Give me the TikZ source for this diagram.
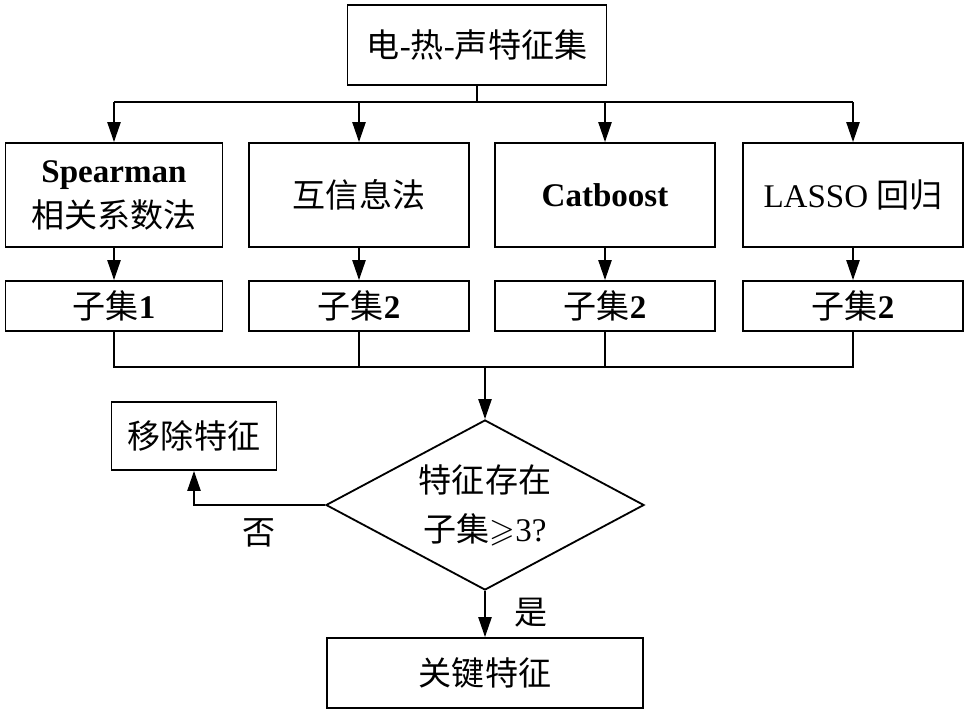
\documentclass[tikz,border=0pt]{standalone}
\usepackage{amssymb}
\usepackage{fontspec}
\setmainfont{Liberation Serif}
\newfontfamily\cjk{Noto Sans CJK SC}
\usetikzlibrary{arrows.meta,shapes.geometric}

\begin{document}
\begin{tikzpicture}[x=0.025cm,y=-0.025cm,line width=1.3pt,
    every node/.style={font=\fontsize{23.5}{32}\selectfont,align=center,inner sep=0pt},
    box/.style={draw,rectangle,minimum width=5.5cm,minimum height=2.6cm},
    subbox/.style={draw,rectangle,minimum width=5.5cm,minimum height=1.25cm},
    >={Triangle[length=5mm,width=3.3mm]}]
      \useasboundingbox (0,0) rectangle (964,711);

      \path
      (477,45) node[draw,minimum width=6.475cm,minimum height=2cm](feat) {{\cjk 电}-{\cjk 热}-{\cjk 声特征集}}
      (114,195) node[box,minimum width=5.425cm](sp) {\textbf{Spearman}\\{\cjk 相关系数法}}
      (359,195) node[box](mi) {\cjk 互信息法}
      (605,195) node[box](cb) {\textbf{Catboost}}
      (853,195) node[box](la) {LASSO {\cjk 回归}}
      ;

      \path
      (114,306) node[subbox,minimum width=5.425cm](s1) {{\cjk 子集}\textbf{1}}
      (359,306) node[subbox](s2) {{\cjk 子集}\textbf{2}}
      (605,306) node[subbox](s3) {{\cjk 子集}\textbf{2}}
      (853,306) node[subbox](s4) {{\cjk 子集}\textbf{2}}
      ;

      \path
      (485,505) node[draw,diamond,shape aspect=1.87,minimum width=7.95cm,minimum height=4.25cm,
        font=\fontsize{23.5}{35}\selectfont](dec) {{\cjk 特征存在}\\{\cjk 子集}$\geqslant$3?}
      (194,436) node[draw,minimum width=4.125cm,minimum height=1.7cm](rm) {\cjk 移除特征}
      (485,673) node[draw,minimum width=7.9cm,minimum height=1.75cm](key) {\cjk 关键特征}
      (259,533) node(no) {\cjk 否}
      (531,613) node(yes) {\cjk 是}
      ;

      \coordinate (split) at (feat.south |- 0,102);
      \coordinate (join) at (dec.north |- 0,367);

      \draw (feat) -- (split);
      \draw (sp.north |- split) -- (la.north |- split);
      \draw[->] (sp.north |- split) -- (sp);
      \draw[->] (mi.north |- split) -- (mi);
      \draw[->] (cb.north |- split) -- (cb);
      \draw[->] (la.north |- split) -- (la);

      \draw[->] (sp) -- (s1);
      \draw[->] (mi) -- (s2);
      \draw[->] (cb) -- (s3);
      \draw[->] (la) -- (s4);

      \draw (s1) -- (s1.south |- join) -- (s4.south |- join) -- (s4);
      \draw (s2) -- (s2.south |- join);
      \draw (s3) -- (s3.south |- join);
      \draw[->] (join) -- (dec);

      \draw[->] (dec.west) -| (rm);
      \draw[->] (dec) -- (key);
    \end{tikzpicture}
\end{document}
